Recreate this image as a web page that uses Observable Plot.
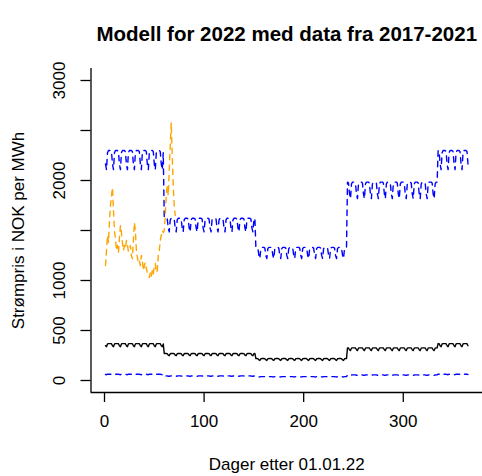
<!DOCTYPE html>
<html><head><meta charset="utf-8">
<script src="https://cdn.jsdelivr.net/npm/d3@7"></script>
<script src="https://cdn.jsdelivr.net/npm/@observablehq/plot@0.6"></script>
<style>body{margin:0;background:#fff} svg{display:block}</style>
</head><body><div id="chart"></div>
<script>
const title = "Modell for 2022 med data fra 2017-2021";
const xLabel = "Dager etter 01.01.22";
const yLabel = "Strømpris i NOK per MWh";
const xTicks = [0, 100, 200, 300];
const yTicks = [0, 500, 1000, 1500, 2000, 2500, 3000];
const yTickLabels = ["0", "500", "1000", "", "2000", "", "3000"];

// model: season levels (season start day-of-year) × weekday profile
const seasonStart = [1, 60, 152, 244, 335];
const meanLevel  = [362, 265, 215, 320, 362];
const upperLevel = [2255, 1590, 1305, 1945, 2255];
const lowerLevel = [62, 45, 38, 55, 62];
// Sat, Sun, Mon, Tue, Wed, Thu, Fri (01.01.22 was a Saturday)
const weekdayFactor = [0.96, 0.935, 1.01, 1.02, 1.02, 1.02, 1.015];

// observed 2022 prices, day 1..71
const actualPrice = [
  1150, 1300, 1450, 1380, 1600, 1750, 1850, 1930, 1700, 1500,
  1420, 1300, 1350, 1280, 1420, 1550, 1480, 1380, 1300, 1350,
  1320, 1400, 1360, 1290, 1300, 1350, 1250, 1220, 1400, 1580,
  1500, 1300, 1230, 1180, 1200, 1150, 1250, 1200, 1100, 1150,
  1180, 1120, 1080, 1050, 1030, 1080, 1040, 1100, 1060, 1150,
  1170, 1080, 1100, 1250, 1300, 1400, 1450, 1500, 1480, 1500,
  1650, 1850, 1950, 1850, 2100, 2350, 2580, 2250, 1950, 1750, 1650
];

const days = d3.range(1, 366);
const model = days.map(d => {
  const s = d3.bisectRight(seasonStart, d) - 1;
  const f = weekdayFactor[(d - 1) % 7];
  return {day: d, mean: meanLevel[s] * f, upper: upperLevel[s] * f, lower: lowerLevel[s] * f};
});
const actual = actualPrice.map((v, i) => ({day: i + 1, price: v}));

const xMin = -13.56, xMax = 379.56, yMin = -120, yMax = 3120;
const dash = "5.5,5";

const chart = Plot.plot({
  width: 482, height: 476,
  marginLeft: 90.5, marginRight: 0, marginTop: 68, marginBottom: 84,
  style: {fontFamily: "'Liberation Sans', Arial, sans-serif", fontSize: "17px", background: "white", color: "black"},
  x: {domain: [xMin, xMax], axis: null},
  y: {domain: [yMin, yMax], axis: null},
  marks: [
    Plot.ruleX([xMin], {stroke: "black", strokeWidth: 1.3}),
    Plot.ruleY([yMin], {stroke: "black", strokeWidth: 1.3}),
    Plot.axisX({ticks: xTicks, tickSize: 10, tickFormat: () => "", label: null, strokeWidth: 1.3}),
    Plot.axisY({ticks: yTicks, tickSize: 10, tickFormat: () => "", label: null, strokeWidth: 1.3}),
    Plot.text(xTicks, {x: d => d, frameAnchor: "bottom", dy: 34, text: d => String(d), fontSize: 17}),
    Plot.text(yTicks.map((v, i) => ({v, t: yTickLabels[i]})), {y: "v", text: "t", frameAnchor: "left", textAnchor: "middle", dx: -31.5, rotate: -90, fontSize: 17}),
    Plot.line(model, {x: "day", y: "mean", stroke: "black", strokeWidth: 1.4}),
    Plot.line(model, {x: "day", y: "upper", stroke: "blue", strokeWidth: 1.4, strokeDasharray: dash}),
    Plot.line(model, {x: "day", y: "lower", stroke: "blue", strokeWidth: 1.4, strokeDasharray: dash}),
    Plot.line(actual, {x: "day", y: "price", stroke: "orange", strokeWidth: 1.4, strokeDasharray: dash}),
    Plot.text([title], {frameAnchor: "top", dy: -42, fontWeight: "bold", fontSize: 20.5}),
    Plot.text([xLabel], {frameAnchor: "bottom", dy: 77, fontSize: 17}),
    Plot.text([yLabel], {frameAnchor: "left", textAnchor: "middle", dx: -72.5, rotate: -90, fontSize: 17})
  ]
});
document.getElementById("chart").appendChild(chart);
</script>
</body></html>
